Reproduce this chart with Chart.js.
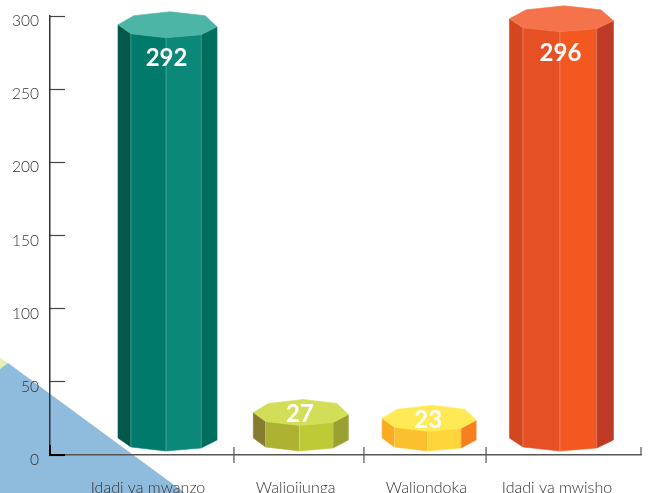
<!DOCTYPE html>
<html>
<head>
<meta charset="utf-8">
<style>
html, body { margin: 0; padding: 0; background: #fff; }
#wrap { position: relative; width: 649px; height: 493px; overflow: hidden; }
#wrap div { position: absolute; inset: 0; }
#yellow { background: #e4eeb0; clip-path: polygon(0 358px, 8px 363px, 0 369px); }
#blue { background: #8fbbdc; clip-path: polygon(0 369px, 8px 363px, 185px 493px, 0 493px); }
canvas { position: absolute; left: 0; top: 0; }
</style>
</head>
<body>
<div id="wrap">
<div id="yellow"></div>
<div id="blue"></div>
<canvas id="chart" width="649" height="493"></canvas>
</div>
<script src="https://cdn.jsdelivr.net/npm/chart.js@4/dist/chart.umd.min.js"></script>
<script>
var categories = ["Idadi ya mwanzo", "Waliojiunga", "Waliondoka", "Idadi ya mwisho"];
var values = [292, 27, 23, 296];
var yTicks = [0, 50, 100, 150, 200, 250, 300];
var labelSlots = [-0.149, 0.976, 1.971, 2.966];
var dividers = [0.506, 1.496, 2.426, 3.606];

var faces = [
    { left: "#00594a", frontLeft: "#007a6b", frontRight: "#0c8878", right: "#006e5e", top: "#4db5a6", half: 49.5, nudge: 0 },
    { left: "#857c2f", frontLeft: "#adb233", frontRight: "#bfcb36", right: "#9ba033", top: "#d2dd58", half: 47.5, nudge: 2 },
    { left: "#fbab22", frontLeft: "#fcbf2d", frontRight: "#fed63c", right: "#f87f20", top: "#ffe955", half: 47, nudge: -1 },
    { left: "#d3471f", frontLeft: "#e55024", frontRight: "#f35821", right: "#bd3a25", top: "#f5734a", half: 52, nudge: 0 }
];

// octagon outline, x as a share of the half width, y in px from the centre
var ring = [[-1, 0], [-0.68, -9], [0.05, -13], [0.76, -9], [1, 2], [0.68, 10], [-0.03, 13], [-0.74, 9]];

function poly(ctx, pts, fill, edge) {
    ctx.beginPath();
    pts.forEach(function (p, i) {
        if (i === 0) ctx.moveTo(p[0], p[1]);
        else ctx.lineTo(p[0], p[1]);
    });
    ctx.closePath();
    ctx.fillStyle = fill;
    ctx.fill();
    if (edge) {
        ctx.strokeStyle = fill;
        ctx.lineWidth = 0.6;
        ctx.stroke();
    }
}

function side(ctx, top, bottom, a, b, fill) {
    poly(ctx, [top[a], top[b], bottom[b], bottom[a]], fill, true);
}

var prisms = {
    id: "prisms",
    afterDatasetsDraw: function (chart) {
        var ctx = chart.ctx;
        var zero = chart.scales.y.getPixelForValue(0);
        chart.getDatasetMeta(0).data.forEach(function (bar, i) {
            var f = faces[i];
            var cx = bar.x + f.nudge;
            var topY = bar.y - 3;
            var baseY = zero - 17;
            var top = ring.map(function (r) { return [cx + r[0] * f.half, topY + r[1]]; });
            var bottom = ring.map(function (r) { return [cx + r[0] * f.half, baseY + r[1]]; });
            side(ctx, top, bottom, 0, 7, f.left);
            side(ctx, top, bottom, 7, 6, f.frontLeft);
            side(ctx, top, bottom, 6, 5, f.frontRight);
            side(ctx, top, bottom, 5, 4, f.right);
            ctx.strokeStyle = "rgba(255,255,255,0.3)";
            ctx.lineWidth = 0.8;
            [7, 6, 5].forEach(function (k) {
                ctx.beginPath();
                ctx.moveTo(top[k][0], top[k][1]);
                ctx.lineTo(bottom[k][0], bottom[k][1]);
                ctx.stroke();
            });
            poly(ctx, top, f.top, true);
            ctx.fillStyle = "#fff";
            ctx.font = "bold 24px Lato";
            ctx.textAlign = "center";
            ctx.textBaseline = "middle";
            ctx.fillText(values[i], cx - 1, bar.y + (values[i] > 100 ? 31 : -1));
        });
    }
};

var axisMarks = {
    id: "axisMarks",
    afterDatasetsDraw: function (chart) {
        var ctx = chart.ctx;
        var x = chart.scales.x;
        var zero = chart.scales.y.getPixelForValue(0);
        ctx.strokeStyle = "#555";
        ctx.lineWidth = 1.2;
        dividers.forEach(function (d, i) {
            var px = x.getPixelForValue(d);
            ctx.beginPath();
            ctx.moveTo(px, zero - 8);
            ctx.lineTo(px, i === dividers.length - 1 ? zero : zero + 8);
            ctx.stroke();
        });
        ctx.strokeStyle = "#000";
        ctx.lineWidth = 2;
        ctx.beginPath();
        ctx.moveTo(50, zero - 10);
        ctx.lineTo(50, zero);
        ctx.lineTo(65, zero);
        ctx.stroke();
    }
};

new Chart(document.getElementById("chart"), {
    type: "bar",
    data: {
        datasets: [{
            data: values.map(function (v, i) { return { x: i, y: v }; }),
            backgroundColor: "rgba(0,0,0,0)",
            borderWidth: 0
        }]
    },
    options: {
        responsive: false,
        animation: false,
        layout: { padding: { top: 16, right: 8, left: 0, bottom: 0 } },
        plugins: { legend: { display: false }, tooltip: { enabled: false } },
        scales: {
            x: {
                type: "linear",
                offset: false,
                min: -0.895,
                max: 3.606,
                afterBuildTicks: function (scale) {
                    scale.ticks = labelSlots.map(function (v) { return { value: v }; });
                },
                afterFit: function (scale) {
                    scale.height = 38;
                    scale.paddingLeft = 0;
                    scale.paddingRight = 0;
                },
                grid: { display: false },
                border: { color: "#555", width: 1.5 },
                ticks: {
                    autoSkip: false,
                    maxRotation: 0,
                    padding: 15,
                    color: "#333",
                    font: { family: "Lato", weight: "300", size: 16 },
                    callback: function (v, i) { return categories[i]; }
                }
            },
            y: {
                min: 0,
                max: 300,
                afterBuildTicks: function (scale) {
                    scale.ticks = yTicks.map(function (v) { return { value: v }; });
                },
                afterFit: function (scale) {
                    scale.width = 50;
                    scale.paddingTop = 0;
                    scale.paddingBottom = 0;
                },
                grid: { drawOnChartArea: false, tickLength: -15, tickColor: "#444", tickWidth: 1.2 },
                border: { color: "#333", width: 1.5 },
                ticks: {
                    padding: 26,
                    labelOffset: 5,
                    color: "#333",
                    font: { family: "Lato", weight: "300", size: 15.5 }
                }
            }
        }
    },
    plugins: [prisms, axisMarks]
});
</script>
</body>
</html>
